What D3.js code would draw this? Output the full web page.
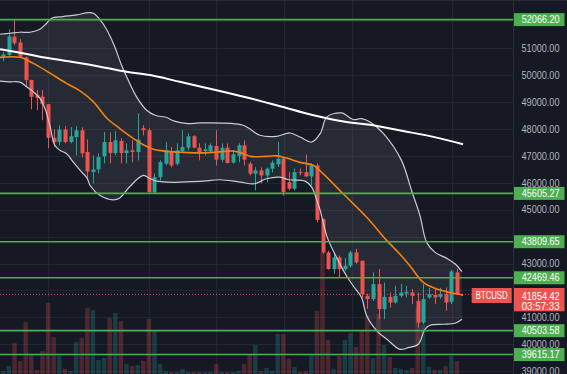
<!DOCTYPE html>
<html><head><meta charset="utf-8">
<script src="https://cdn.jsdelivr.net/npm/d3@7"></script>
<style>
html,body{margin:0;padding:0;background:#151924;}
svg{display:block;}
text{font-family:"Liberation Sans",Arial,sans-serif;}
</style></head><body>
<svg id="chart" width="567" height="374"></svg>
<script>
// ---- data (4h BTCUSD candles) ----
const opens=[50687,50750,51433,51216,50657,49818,49258,49202,48922,47673,47516,47979,47516,47703,47953,47143,46397,46498,46983,47516,47106,47553,47106,47207,47143,48027,47953,45651,46211,46710,47180,46710,47180,47307,47729,47307,47180,47180,47367,46860,47307,46748,46994,47393,46710,46337,46461,46274,46524,46684,46897,46024,45778,46397,46397,46237,46647,44659,43413,42794,43227,42794,42917,43413,43104,41798,41675,42234,41302,41761,41548,41798,41891,41921,41612,40802,41735,41835,41761,41861,41574,42667];
const highs=[50862,51701,52066,51347,50687,49830,49445,49445,48930,47990,48139,48102,48076,48102,48064,47617,47020,47095,47889,47878,47915,47654,47468,47580,48587,48139,48027,46349,46834,47516,47330,47468,47953,47841,47766,47468,47468,47468,47953,47468,47468,47207,47468,47580,46770,46584,46572,46572,46834,47516,46957,46397,46535,46535,47057,46722,46722,44670,43477,43365,43290,43215,43477,43551,43104,41873,42667,42794,42294,41921,42171,42246,42171,42059,41921,42234,42096,42059,42096,42108,42757,42794];
const lows=[50526,50675,51123,50638,49556,48736,48699,48326,47281,47330,47393,47468,47468,47020,46945,46088,45976,46349,46722,46722,47020,46722,46722,46759,46834,47766,45640,45603,46088,46647,46572,46647,47143,47207,47281,46834,47020,47095,46647,46759,46722,46722,46759,46647,46274,45715,45976,46013,46386,46584,45528,45715,45715,46274,46211,45901,44532,43365,42768,42619,42481,42731,42842,42992,41723,41313,41612,40929,40929,41362,41511,41735,41735,41488,40616,40742,41686,41500,41686,41239,41488,41835];
const closes=[50776,51440,51187,50687,49818,49195,49157,48922,47673,47516,47979,47516,47729,47953,47095,46423,46498,46957,47516,47106,47580,47106,47207,47143,47606,47953,45651,46211,46770,47207,46647,47207,47330,47729,47307,47143,47244,47393,46860,47307,46733,47057,47393,46860,46337,46461,46274,46524,46748,46897,45651,45778,46397,46367,46237,46647,44622,43413,42794,43227,42794,42917,43413,43040,41861,41675,42234,41302,41761,41548,41798,41921,41947,41798,40802,41675,41861,41735,41861,41548,42704,41854.42];
const volumes=[3,8,31,13,52,19,4,23,71,37,18,5,3,32,36,66,64,14,16,56,61,53,10,8,9,13,55,44,10,3,2,2,5,2,2,2,2,2,10,2,2,2,3,10,19,29,3,6,3,40,40,15,7,2,3,18,63,122,34,5,18,34,41,27,44,59,16,60,29,17,6,5,4,6,66,49,7,4,4,8,18,13];

// indicator lines: [bar index, price]
const bbUpper=[[-0.59,51522],[1.2,51560],[2.98,51597],[4.77,51597],[6.55,51709],[7.75,51933],[8.64,52119],[10.66,52179],[13.1,52242],[15.2,52328],[16.1,52306],[17.3,52056],[18.5,51683],[19.9,51060],[21.1,50377],[22.3,49818],[23.8,49195],[25.6,48699],[27.1,48513],[29.2,48426],[30.4,48300],[33.0,48203],[35.1,48225],[42.8,48139],[45.8,47766],[48.8,47729],[51.2,47852],[53.0,47703],[55.1,47516],[56.6,47830],[57.8,48449],[60.4,48598],[62.5,48352],[64.0,48389],[65.5,48262],[67.9,47830],[71.1,46834],[72.9,45715],[74.4,44782],[75.6,43786],[77.1,43413],[79.2,43190],[80.7,42981],[81.9,42693]];
const bbLower=[[-0.59,49780],[1.2,49754],[2.98,49743],[4.18,49568],[5.36,49381],[6.55,49135],[7.45,48762],[8.3,48139],[9.2,47393],[10.1,47207],[11.3,47083],[12.5,46770],[14.0,46397],[15.0,46162],[15.5,45901],[17.3,45528],[19.6,45368],[20.8,45435],[22.6,45864],[25.0,46274],[26.2,46151],[27.4,46061],[29.2,46024],[35.1,46050],[38.7,46114],[42.3,46024],[44.9,45965],[47.0,46151],[49.4,46211],[50.9,46114],[53.9,46061],[55.1,45827],[56.0,45342],[56.6,44968],[57.8,43999],[59.5,43228],[61.3,42536],[62.5,42163],[64.0,41723],[64.9,41047],[67.0,40429],[68.5,40183],[70.8,39810],[72.3,39870],[74.1,39996],[75.3,40556],[76.2,40705],[78.6,40742],[80.7,40780],[81.9,40929]];
const bbBasis=[[-0.59,50664],[2.98,50664],[5.36,50441],[7.75,50153],[11.3,49695],[13.7,49418],[16.1,49008],[18.5,48400],[20.8,48016],[23.2,47654],[25.0,47412],[26.8,47244],[29.2,47169],[32.1,47132],[36.0,47113],[38.1,47143],[41.0,47180],[42.9,47083],[44.1,46983],[47.0,46983],[48.8,47001],[50.6,46919],[53.0,46759],[55.4,46647],[57.1,46338],[60.7,45591],[64.9,44719],[68.5,43849],[70.8,43353],[72.6,42917],[75.0,42294],[77.4,42048],[79.8,41921],[82.1,41824]];
const ma200=[[-0.59,50963],[2.98,50836],[6.55,50687],[11.3,50526],[17.3,50314],[22.0,50127],[26.2,50004],[31.5,49754],[37.5,49471],[43.5,49172],[49.4,48848],[55.4,48512],[61.3,48262],[65.5,48158],[71.4,47927],[77.4,47680],[82.1,47430]];

const levels=[52066.20,45605.27,43809.65,42469.46,40503.58,39615.17];
const tickValues=[51000,50000,49000,48000,47000,46000,45000,43000,41000,40000,39000];
const gridPrices=d3.range(39000,53000,1000);
const gridBars=[8,26,38,50.1,62.3,80.1];
const symbol="BTCUSD";
const lastPrice=41854.42;
const countdown="03:57:33";

// ---- drawing ----
const W=567,H=374,PW=513.5;
const svg=d3.select("#chart");
const x=d3.scaleLinear().domain([0,81]).range([3.3,456.9]);
const y=d3.scaleLinear().domain([39000,51000]).range([371.1,48.3]);
const yVol=d3.scaleLinear().domain([0,130]).range([374,244]);
const UP="#26a69a",DN="#ef5350";

svg.append("rect").attr("width",W).attr("height",H).attr("fill","#151924");
svg.append("defs").append("clipPath").attr("id","plot").append("rect").attr("x",0).attr("y",0).attr("width",PW).attr("height",H);
const g=svg.append("g").attr("clip-path","url(#plot)");

// grid
g.selectAll(".hg").data(gridPrices).join("line").attr("x1",0).attr("x2",PW)
 .attr("y1",d=>Math.round(y(d))+0.5).attr("y2",d=>Math.round(y(d))+0.5).attr("stroke","#222632").attr("stroke-width",1);
g.selectAll(".vg").data(gridBars).join("line").attr("y1",0).attr("y2",H)
 .attr("x1",d=>Math.round(x(d))+0.5).attr("x2",d=>Math.round(x(d))+0.5).attr("stroke","#222632").attr("stroke-width",1);

const idx=d3.range(opens.length);
// volume
g.selectAll(".vol").data(idx).join("rect")
 .attr("x",i=>x(i)-2.2).attr("width",4.4)
 .attr("y",i=>yVol(volumes[i])).attr("height",i=>yVol(0)-yVol(volumes[i]))
 .attr("fill",i=>closes[i]>=opens[i]?UP:DN).attr("opacity",0.26);

// band fill
const line=d3.line().x(d=>x(d[0])).y(d=>y(d[1])).curve(d3.curveCatmullRom.alpha(0.5));
const upPath=line(bbUpper);
const loPath=line(bbLower.slice().reverse());
g.append("path").attr("d",upPath+"L"+loPath.slice(1)+"Z").attr("fill","rgba(255,255,255,0.075)");

// candles
g.selectAll(".wick").data(idx).join("line")
 .attr("x1",i=>Math.round(x(i))+0.5).attr("x2",i=>Math.round(x(i))+0.5)
 .attr("y1",i=>y(highs[i])).attr("y2",i=>y(lows[i]))
 .attr("stroke",i=>closes[i]>=opens[i]?UP:DN).attr("stroke-width",1);
g.selectAll(".body").data(idx).join("rect")
 .attr("x",i=>Math.round(x(i))+0.5-2).attr("width",4)
 .attr("y",i=>y(Math.max(opens[i],closes[i])))
 .attr("height",i=>Math.max(1,y(Math.min(opens[i],closes[i]))-y(Math.max(opens[i],closes[i]))))
 .attr("fill",i=>closes[i]>=opens[i]?UP:DN);

// indicator lines
g.append("path").attr("d",upPath).attr("fill","none").attr("stroke","#c9cbd2").attr("stroke-width",1.2);
g.append("path").attr("d",line(bbLower)).attr("fill","none").attr("stroke","#c9cbd2").attr("stroke-width",1.2);
g.append("path").attr("d",line(bbBasis)).attr("fill","none").attr("stroke","#f5820f").attr("stroke-width",1.6);
g.append("path").attr("d",line(ma200)).attr("fill","none").attr("stroke","#ffffff").attr("stroke-width",2);

// horizontal levels
g.selectAll(".lvl").data(levels).join("line").attr("x1",0).attr("x2",PW)
 .attr("y1",d=>y(d)).attr("y2",d=>y(d)).attr("stroke","#4caf50").attr("stroke-width",1.6);

// price line
g.append("line").attr("x1",0).attr("x2",PW).attr("y1",y(lastPrice)).attr("y2",y(lastPrice))
 .attr("stroke",DN).attr("stroke-width",1).attr("stroke-dasharray","1,2");

// borders
svg.append("line").attr("x1",0).attr("x2",W).attr("y1",0.5).attr("y2",0.5).attr("stroke","#2a2e39");
svg.append("line").attr("x1",PW).attr("x2",PW).attr("y1",0).attr("y2",H).attr("stroke","#2a2e39");

// right axis
const axis=d3.axisRight(y).tickValues(tickValues).tickFormat(d=>d.toFixed(2)).tickSize(0).tickPadding(8);
const ag=svg.append("g").attr("transform",`translate(${PW},0)`).call(axis);
ag.select(".domain").remove();
ag.selectAll("text").attr("fill","#b2b5be").attr("font-size",10).attr("font-family","Liberation Sans, Arial, sans-serif")
  .attr("textLength",38).attr("lengthAdjust","spacingAndGlyphs");

// level labels
const lg=svg.selectAll(".lbl").data(levels).join("g").attr("transform",d=>`translate(514,${y(d)})`);
lg.append("rect").attr("x",0).attr("y",-6.5).attr("width",50.5).attr("height",13).attr("fill","#4caf50");
lg.append("text").attr("x",7.7).attr("y",0).attr("dy","0.35em").attr("fill","#ffffff").attr("font-size",10)
  .attr("textLength",38).attr("lengthAdjust","spacingAndGlyphs").text(d=>d.toFixed(2));

// last price labels
const py=y(lastPrice);
svg.append("rect").attr("x",514).attr("y",py-6.3).attr("width",50.5).attr("height",23.3).attr("fill",DN);
svg.append("text").attr("x",521.7).attr("y",py+2).attr("dy","0.35em").attr("fill","#fff").attr("font-size",10)
  .attr("textLength",38).attr("lengthAdjust","spacingAndGlyphs").text(lastPrice.toFixed(2));
svg.append("text").attr("x",521.7).attr("y",py+12.5).attr("dy","0.35em").attr("fill","#fff").attr("font-size",10)
  .attr("textLength",38).attr("lengthAdjust","spacingAndGlyphs").text(countdown);
svg.append("rect").attr("x",471.7).attr("y",py-6.3).attr("width",40).attr("height",15).attr("fill",DN);
svg.append("text").attr("x",491.7).attr("y",py+1.2).attr("dy","0.35em").attr("text-anchor","middle").attr("fill","#fff")
  .attr("font-size",10).attr("textLength",32).attr("lengthAdjust","spacingAndGlyphs").text(symbol);
</script>
</body></html>
